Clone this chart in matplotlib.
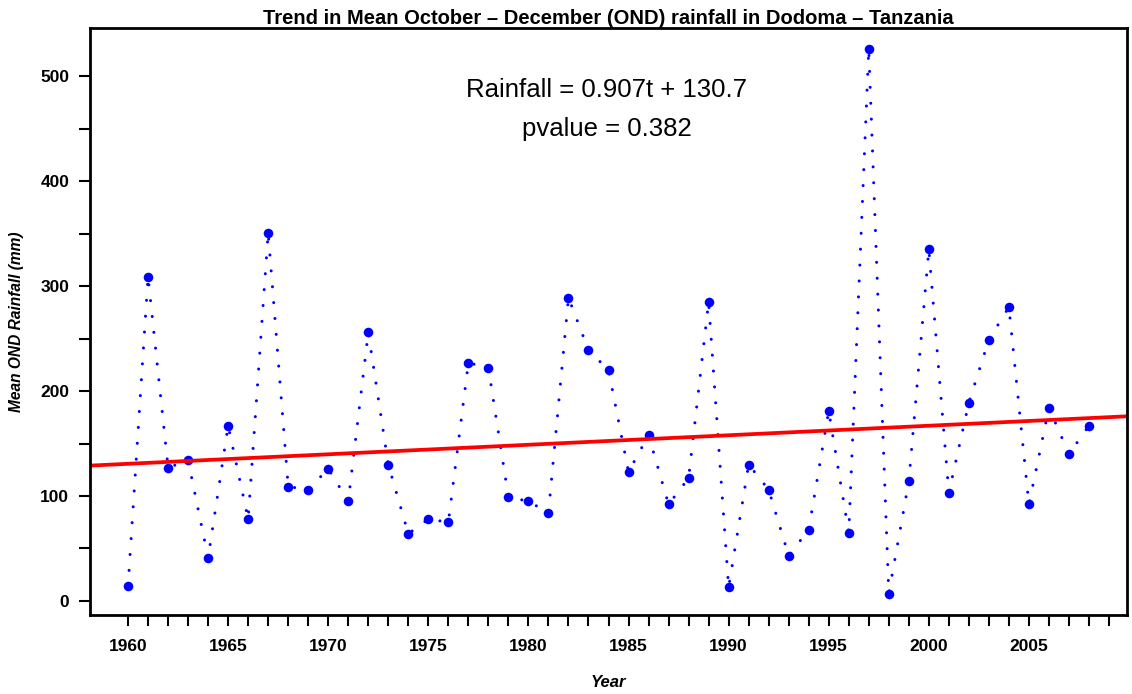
import numpy as np
import matplotlib
matplotlib.use("Agg")
import matplotlib.pyplot as plt
from matplotlib.ticker import MultipleLocator

plt.rcParams['font.family'] = ['Liberation Sans', 'DejaVu Sans']

# OND rainfall at Dodoma (mm)
years = list(range(1960, 2009))
rainfall = [14, 309, 127, 134, 41, 167, 78, 351, 109, 106,
            126, 95, 256, 130, 64, 78, 75, 227, 222, 99,
            95, 84, 289, 239, 220, 123, 158, 92, 117, 285,
            13, 130, 106, 43, 68, 181, 65, 526, 7, 114,
            335, 103, 189, 249, 280, 92, 184, 140, 167]

# trend fit reported on the chart, t counted in years from 1960
slope = 0.907
intercept = 130.7
pvalue = 0.382

title = "Trend in Mean October \u2013 December (OND) rainfall in Dodoma \u2013 Tanzania"

fig = plt.figure(figsize=(11.32, 6.94), dpi=100)
ax = fig.add_axes([0.0795, 0.1138, 0.9161, 0.8459])

# R-style dotted line: small round dots, wide gaps
ax.plot(years, rainfall, color='blue', linewidth=2.2,
        linestyle=(0, (0.01, 5.2)), dash_capstyle='round')
ax.plot(years, rainfall, 'o', color='blue', markersize=6.9, markeredgewidth=0)

ax.set_xlim(1958.1, 2009.9)
ax.set_ylim(-13.4, 546)

xl = np.array(ax.get_xlim())
ax.plot(xl, intercept + slope * (xl - 1960), color='red', linewidth=2.7,
        solid_capstyle='butt')

ax.text(1983.9, 487, f"Rainfall = {slope}t + {intercept}", ha='center', va='center',
        fontsize=18.5)
ax.text(1983.9, 450, f"pvalue = {pvalue}", ha='center', va='center', fontsize=18.5)

ax.set_title(title, fontsize=14.5, fontweight='bold', pad=3)

ax.set_xticks(range(1960, 2006, 5))
ax.set_xticks(range(1960, 2010), minor=True)
ax.set_yticks([0, 100, 200, 300, 400, 500])
ax.yaxis.set_minor_locator(MultipleLocator(50))

ax.tick_params(which='both', direction='out', width=1.5, length=8)
ax.tick_params(axis='x', pad=9)
ax.tick_params(axis='y', pad=7)
for lab in ax.get_xticklabels() + ax.get_yticklabels():
    lab.set_fontweight('bold')
    lab.set_fontsize(12.5)

for sp in ax.spines.values():
    sp.set_linewidth(2)

ax.set_xlabel("Year", fontweight='bold', fontstyle='italic', fontsize=12)
ax.set_ylabel("Mean OND Rainfall (mm)", fontweight='bold', fontstyle='italic', fontsize=11.2)
ax.xaxis.set_label_coords(0.5, -0.102)
ax.yaxis.set_label_coords(-0.064, 0.5)

fig.savefig("out.png", dpi=100)
